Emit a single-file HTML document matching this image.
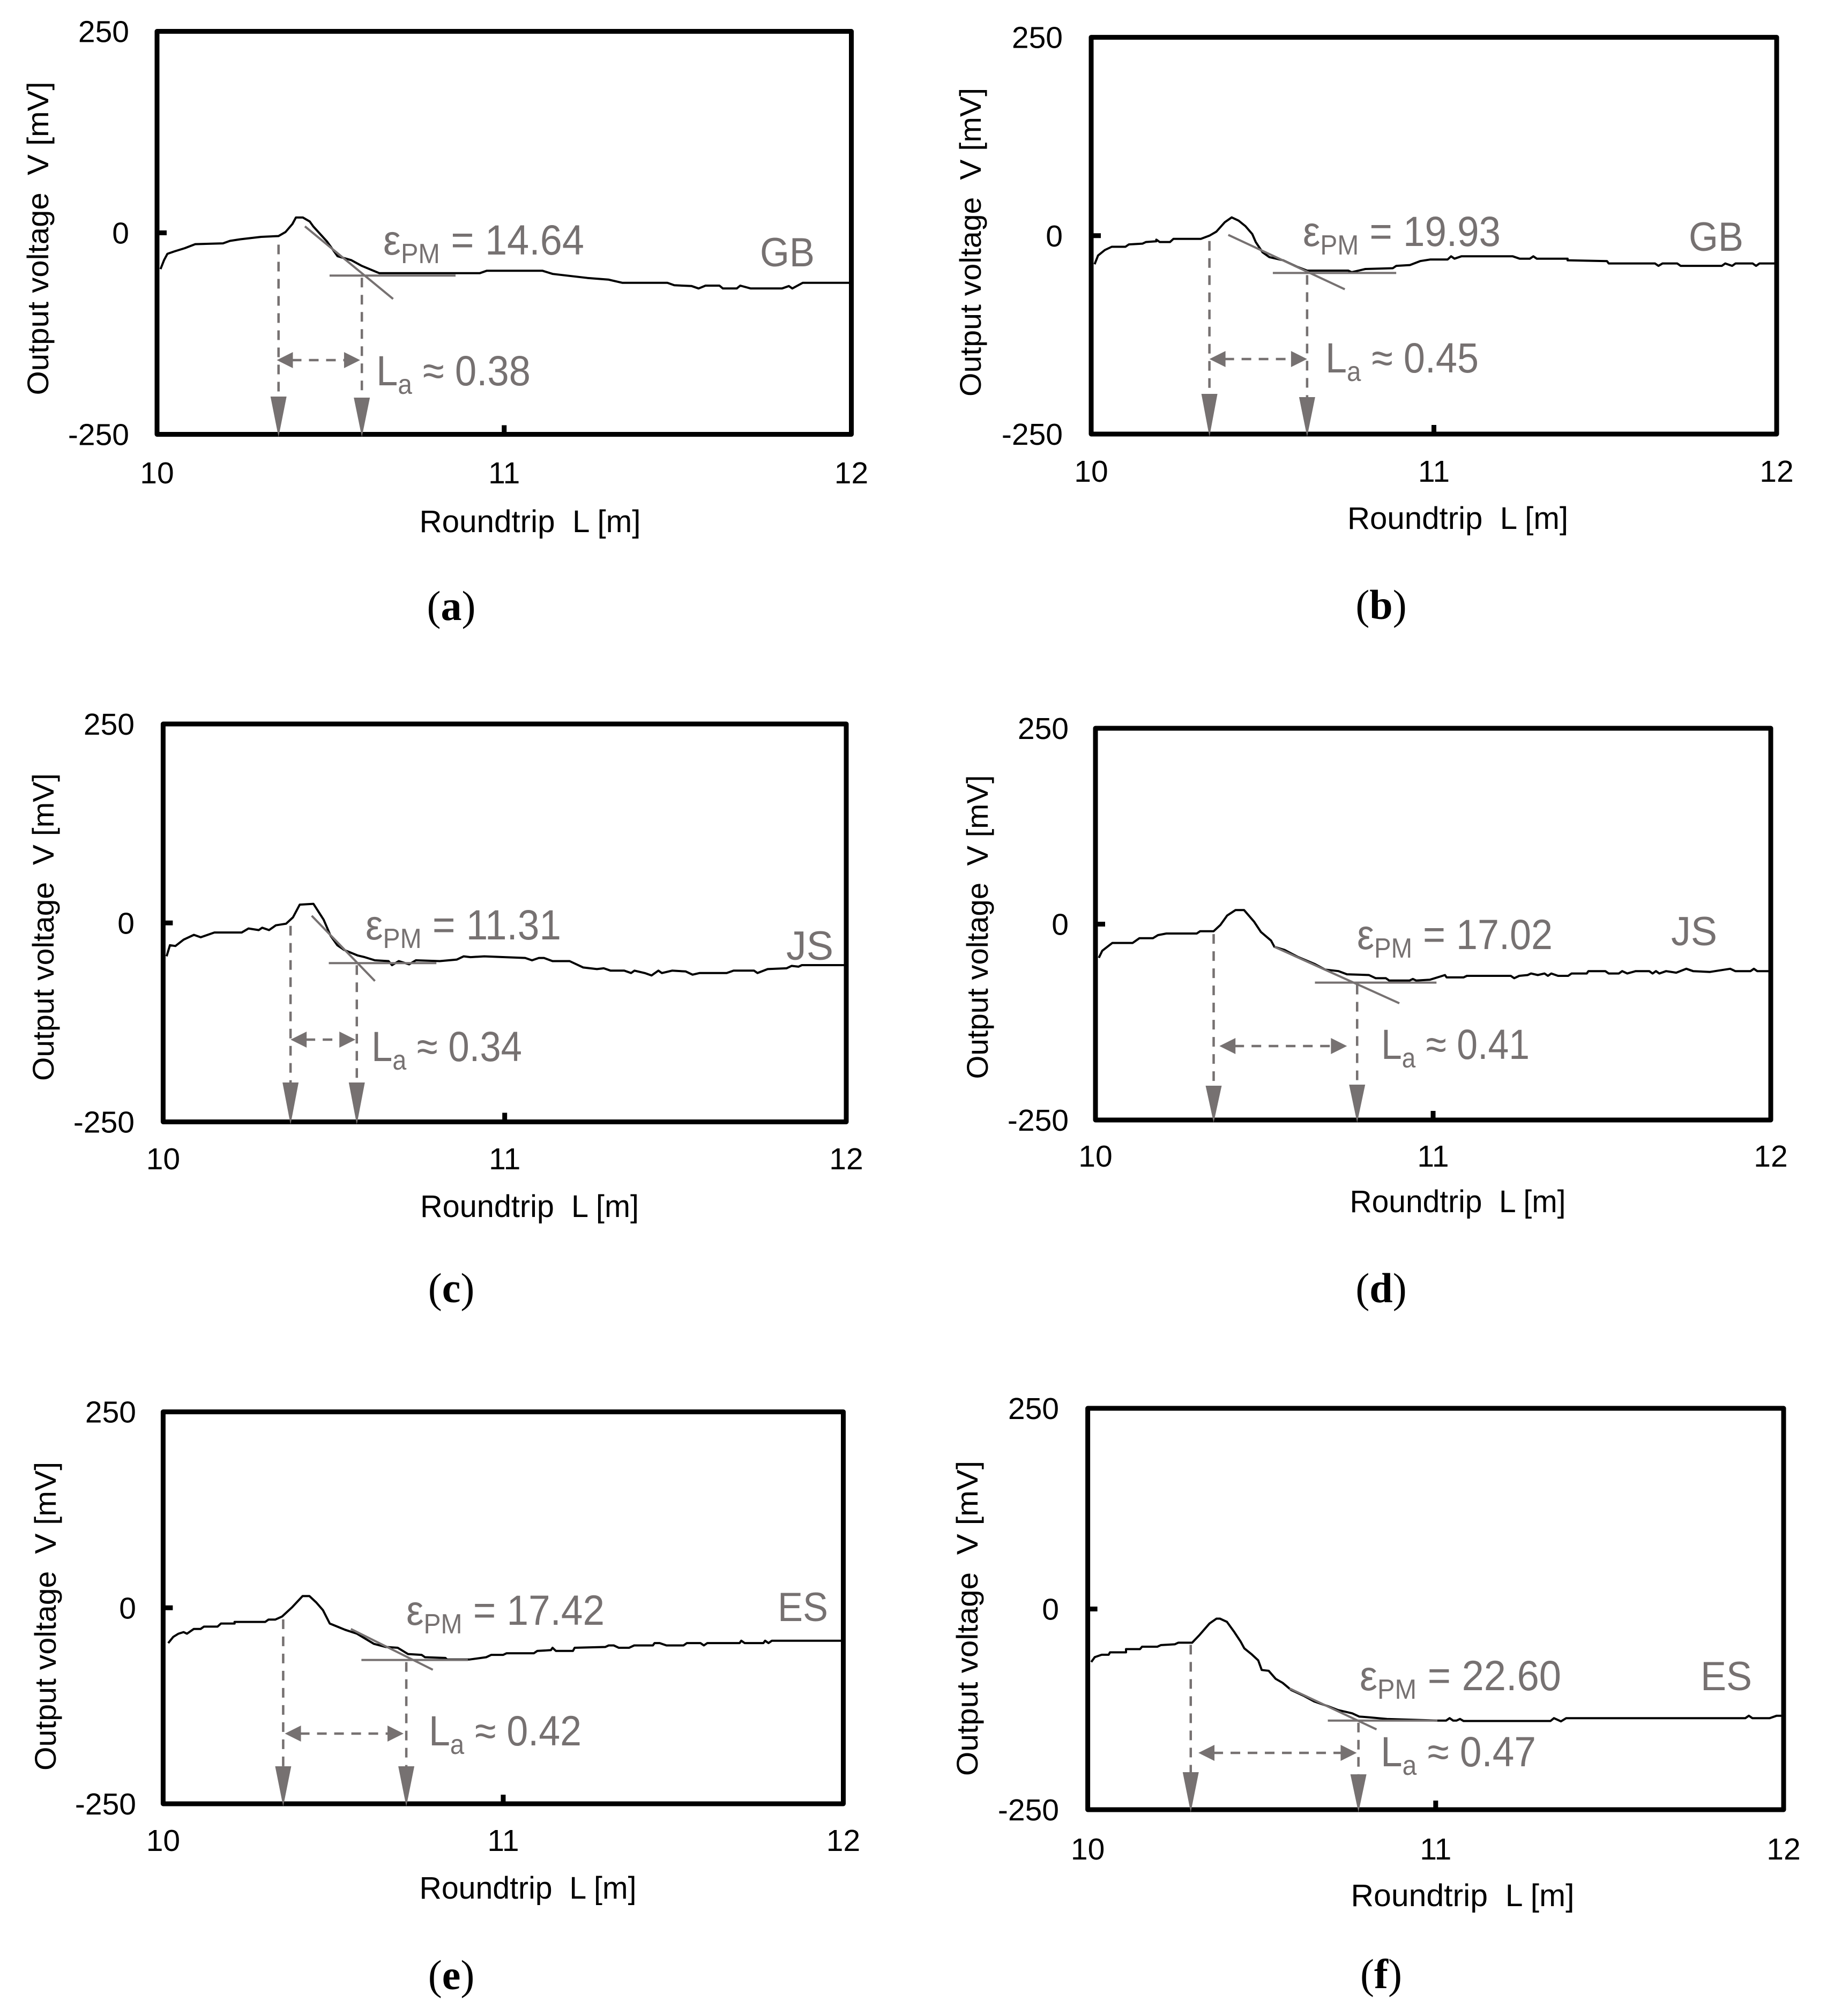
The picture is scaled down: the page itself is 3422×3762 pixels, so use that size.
<!DOCTYPE html>
<html>
<head>
<meta charset="utf-8">
<title>Output voltage versus roundtrip length panels</title>
<style>
html,body{margin:0;padding:0;background:#fff;}
body{width:3422px;height:3762px;overflow:hidden;}
svg{display:block;}
text{font-family:"Liberation Sans",sans-serif;}
</style>
</head>
<body>
<svg id="figure" xmlns="http://www.w3.org/2000/svg" width="3422" height="3762" viewBox="0 0 3422 3762"></svg>
<script>
// shared axis values
const lengthTicks = [10, 11, 12];
const voltageTicks = [250, 0, -250];
const xTitle = "Roundtrip  L [m]";
const yTitle = "Output voltage  V [mV]";

// panel (a)
const lengthA = [10.01,10.02,10.03,10.05,10.08,10.11,10.19,10.21,10.24,10.30,10.35,10.37,10.39,10.40,10.42,10.44,10.45,10.49,10.52,10.56,10.59,10.64,10.93,10.95,11.11,11.14,11.18,11.24,11.30,11.34,11.47,11.49,11.54,11.56,11.58,11.62,11.63,11.67,11.68,11.71,11.80,11.82,11.83,11.86,12.0];
const voltageA = [-45,-34,-26,-23,-19,-14,-13,-10,-8,-5,-4,1,11,19,19,14,8,-11,-29,-34,-41,-50,-50,-47,-47,-51,-53,-56,-58,-62,-62,-65,-66,-69,-65.5,-65.5,-69,-69,-65.5,-69,-69,-66,-69,-62,-62];
const markerLengthA = [10.35, 10.59];
const markerStartA = [-12, -53];
const spanA = [10.345, 10.585];
const slopeLengthA = [10.426, 10.68];
const slopeVoltageA = [8, -82];
const plateauLengthA = [10.497, 10.86];
const plateauVoltageA = [-53, -53];

// panel (b)
const lengthB = [10.01,10.02,10.04,10.06,10.10,10.11,10.15,10.16,10.19,10.19,10.20,10.23,10.24,10.32,10.345,10.365,10.39,10.41,10.43,10.45,10.47,10.48,10.50,10.52,10.56,10.60,10.63,10.75,10.76,10.80,10.88,10.89,10.93,10.96,10.99,11.04,11.05,11.06,11.08,11.23,11.25,11.28,11.29,11.30,11.39,11.39,11.505,11.51,11.645,11.655,11.667,11.71,11.72,11.84,11.85,11.87,11.88,11.93,11.94,11.95,12];
const voltageB = [-36,-25,-18,-14,-14,-11,-10,-8,-7,-5,-8,-8,-4,-4,0,5,17,23,19,12,2,-8,-21,-27,-31,-39,-44,-44,-46,-42,-41,-38,-37,-32,-30,-30,-26,-29,-26,-26,-29,-29,-26,-29,-29,-31,-32,-35,-35,-38,-35,-35,-38,-38,-35,-38,-35,-35,-38,-35,-35];
const markerLengthB = [10.345, 10.63];
const markerStartB = [-4, -47];
const spanB = [10.345, 10.63];
const slopeLengthB = [10.40, 10.74];
const slopeVoltageB = [1, -67.5];
const plateauLengthB = [10.53, 10.89];
const plateauVoltageB = [-47, -47];

// panel (c)
const lengthC = [10.01,10.02,10.036,10.06,10.09,10.11,10.15,10.23,10.25,10.28,10.29,10.31,10.33,10.36,10.38,10.40,10.44,10.455,10.47,10.49,10.51,10.53,10.57,10.59,10.62,10.66,10.67,10.69,10.72,10.74,10.81,10.86,10.88,10.90,10.94,11.06,11.08,11.10,11.115,11.14,11.19,11.23,11.27,11.29,11.31,11.35,11.37,11.38,11.41,11.43,11.45,11.46,11.49,11.53,11.55,11.57,11.65,11.67,11.73,11.74,11.77,11.825,11.84,11.86,11.87,12];
const voltageC = [-42,-28,-29,-21,-15,-18,-12,-12,-7,-9,-6,-9,-3,-1,7,23,24,14,4,-16,-28,-34,-41,-43,-47,-48,-53,-48,-52,-47,-48,-46,-42,-43,-42,-44,-47,-44,-44,-48,-48,-56,-58,-57,-60,-60,-63,-60,-63,-66,-60,-63,-60,-61,-65,-63,-63,-60,-60,-63,-58,-57,-54,-55,-53,-53];
const markerLengthC = [10.373, 10.567];
const markerStartC = [-1, -50.5];
const spanC = [10.373, 10.563];
const slopeLengthC = [10.435, 10.62];
const slopeVoltageC = [9, -73];
const plateauLengthC = [10.485, 10.80];
const plateauVoltageC = [-50.5, -50.5];

// panel (d)
const lengthD = [10.01,10.02,10.05,10.11,10.13,10.17,10.185,10.21,10.30,10.31,10.35,10.37,10.39,10.415,10.44,10.46,10.47,10.49,10.52,10.53,10.56,10.60,10.65,10.68,10.72,10.745,10.81,10.83,10.86,10.87,10.93,10.94,10.95,10.99,11.02,11.035,11.04,11.09,11.10,11.23,11.24,11.255,11.28,11.29,11.31,11.33,11.34,11.35,11.37,11.40,11.41,11.455,11.46,11.51,11.52,11.55,11.56,11.575,11.60,11.64,11.65,11.66,11.67,11.69,11.72,11.75,11.77,11.82,11.835,11.88,11.895,11.94,11.95,11.96,12];
const voltageD = [-43,-34,-24,-24,-18,-18,-14,-12,-12,-9,-9,-1,11,18,18,8,3,-10,-21,-29,-33,-42,-51,-58,-60,-64,-65,-69,-69,-72,-72,-70,-72,-71,-67,-65,-68,-68,-66,-66,-69,-66,-65,-63,-65,-63,-66,-63,-66,-66,-63,-63,-60,-60,-63,-63,-60,-63,-60,-60,-63,-60,-63,-60,-62,-57,-60,-61,-60,-57,-60,-60,-57,-60,-60];
const markerLengthD = [10.35, 10.775];
const markerStartD = [-10, -74.6];
const spanD = [10.367, 10.745];
const slopeLengthD = [10.53, 10.90];
const slopeVoltageD = [-29, -101];
const plateauLengthD = [10.65, 11.01];
const plateauVoltageD = [-74.6, -74.6];

// panel (e)
const lengthE = [10.015,10.03,10.045,10.06,10.07,10.09,10.11,10.12,10.16,10.17,10.21,10.21,10.30,10.31,10.33,10.35,10.38,10.41,10.43,10.45,10.47,10.49,10.535,10.57,10.62,10.655,10.69,10.72,10.76,10.77,10.83,10.835,10.90,10.95,10.965,11.0,11.01,11.09,11.10,11.14,11.145,11.155,11.205,11.21,11.30,11.31,11.325,11.34,11.37,11.385,11.44,11.445,11.46,11.48,11.53,11.54,11.58,11.59,11.60,11.695,11.70,11.71,11.765,11.77,11.78,11.79,12];
const voltageE = [-45,-37,-33,-31,-33,-27,-27,-24,-24,-20,-20,-18,-18,-15,-15,-11,1,15,15,7,-3,-20,-28,-33,-46,-50,-51,-59,-60,-63,-64,-66,-66,-63,-60,-60,-58,-58,-55,-54,-51,-55,-55,-51,-50,-48,-48,-51,-51,-48,-48,-45,-45,-48,-48,-45,-45,-48,-45,-45,-42,-45,-45,-42,-45,-42,-42];
const markerLengthE = [10.353, 10.715];
const markerStartE = [-12, -66.5];
const spanE = [10.358, 10.707];
const slopeLengthE = [10.552, 10.793];
const slopeVoltageE = [-27, -79];
const plateauLengthE = [10.583, 10.896];
const plateauVoltageE = [-66.5, -66.5];

// panel (f)
const lengthF = [10.01,10.02,10.04,10.06,10.064,10.11,10.11,10.15,10.156,10.20,10.21,10.25,10.26,10.30,10.32,10.35,10.37,10.38,10.40,10.42,10.44,10.45,10.47,10.49,10.50,10.52,10.54,10.56,10.585,10.62,10.65,10.69,10.72,10.76,10.78,10.81,10.86,11.005,11.03,11.04,11.05,11.06,11.07,11.08,11.33,11.34,11.36,11.375,11.89,11.90,11.91,11.96,11.98,12];
const voltageF = [-66,-60,-57,-57,-54,-54,-50,-50,-47,-47,-45,-44,-42,-42,-33,-18,-12,-12,-16,-28,-41,-49,-56,-64,-76,-77,-87,-92,-101,-108,-115,-121,-126,-130,-134,-135,-137,-139,-139,-136,-139,-139,-137,-139.5,-139.5,-136,-140,-136,-136,-133,-136,-136,-133,-133];
const markerLengthF = [10.296, 10.778];
const markerStartF = [-42, -139];
const spanF = [10.318, 10.773];
const slopeLengthF = [10.58, 10.83];
const slopeVoltageF = [-99, -150];
const plateauLengthF = [10.69, 11.005];
const plateauVoltageF = [-139, -139];

// printed labels
const captions = ["a", "b", "c", "d", "e", "f"];
const permittivityLabels = ["14.64", "19.93", "11.31", "17.02", "17.42", "22.60"];
const lengthLabels = ["0.38", "0.45", "0.34", "0.41", "0.42", "0.47"];
const materialLabels = ["GB", "GB", "JS", "JS", "ES", "ES"];

// series bundled per panel
const seriesLength = [lengthA, lengthB, lengthC, lengthD, lengthE, lengthF];
const seriesVoltage = [voltageA, voltageB, voltageC, voltageD, voltageE, voltageF];
const markerLengths = [markerLengthA, markerLengthB, markerLengthC, markerLengthD, markerLengthE, markerLengthF];
const markerStarts = [markerStartA, markerStartB, markerStartC, markerStartD, markerStartE, markerStartF];
const spans = [spanA, spanB, spanC, spanD, spanE, spanF];
const slopeLengths = [slopeLengthA, slopeLengthB, slopeLengthC, slopeLengthD, slopeLengthE, slopeLengthF];
const slopeVoltages = [slopeVoltageA, slopeVoltageB, slopeVoltageC, slopeVoltageD, slopeVoltageE, slopeVoltageF];
const plateauLengths = [plateauLengthA, plateauLengthB, plateauLengthC, plateauLengthD, plateauLengthE, plateauLengthF];
const plateauVoltages = [plateauVoltageA, plateauVoltageB, plateauVoltageC, plateauVoltageD, plateauVoltageE, plateauVoltageF];

// layout only (pixel geometry of each panel)
const layouts = [
 {box:[293,1588.5,58.5,810.5], yTitleX:90, yTitleMid:445, yTitleLen:585, xTitleX:989, xTitleY:993, xTitleLen:413, tickBase:902, tickRight:241, headTop:[740,742], spanY:672,
  eps:[715,475,375], la:[702,719,288], mat:[1418,497,102], cap:[842,1157]},
 {box:[2036,3315,69.6,810], yTitleX:1830, yTitleMid:452, yTitleLen:576, xTitleX:2720, xTitleY:987, xTitleLen:412, tickBase:899, tickRight:1983, headTop:[735,741], spanY:670,
  eps:[2431,459,369], la:[2473,695,286], mat:[3151,468,102], cap:[2577,1155]},
 {box:[304.4,1579,1351,2093.5], yTitleX:100, yTitleMid:1730, yTitleLen:574, xTitleX:988, xTitleY:2271, xTitleLen:408, tickBase:2182, tickRight:251, headTop:[2020,2020], spanY:1940,
  eps:[682,1753,365], la:[693,1980,281], mat:[1467,1791,88], cap:[842,2430]},
 {box:[2044,3304,1359,2090], yTitleX:1843, yTitleMid:1730, yTitleLen:567, xTitleX:2720, xTitleY:2262, xTitleLen:403, tickBase:2177, tickRight:1994, headTop:[2026,2024], spanY:1952,
  eps:[2532,1771,365], la:[2577,1976,277], mat:[3118,1764,86], cap:[2577,2430]},
 {box:[304.4,1573.5,2634.6,3366], yTitleX:104, yTitleMid:3016, yTitleLen:576, xTitleX:985, xTitleY:3543, xTitleLen:405, tickBase:3454, tickRight:254, headTop:[3296,3296], spanY:3235,
  eps:[758,3032,370], la:[800,3257,285], mat:[1451,3025,94], cap:[842,3712]},
 {box:[2029.6,3328,2628,3377], yTitleX:1824, yTitleMid:3020, yTitleLen:588, xTitleX:2729, xTitleY:3557, xTitleLen:417, tickBase:3470, tickRight:1976, headTop:[3307,3311], spanY:3271,
  eps:[2537,3154,376], la:[2576,3296,290], mat:[3173,3154,96], cap:[2577,3710]}
];

const NS = "http://www.w3.org/2000/svg";
const figure = document.getElementById("figure");
const INK = "#767171";

function addLine(parent, name, x1, y1, x2, y2, color, width, dash) {
  const el = document.createElementNS(NS, "line");
  
  
  el.setAttribute("x1", x1);
  el.setAttribute("y1", y1);
  el.setAttribute("x2", x2);
  el.setAttribute("y2", y2);
  el.setAttribute("stroke", color);
  el.setAttribute("stroke-width", width);
  if (dash) el.setAttribute("stroke-dasharray", dash);
  parent.appendChild(el);
  return el;
}
function addHead(parent, name, pts) {
  const el = document.createElementNS(NS, "polygon");
  
  
  el.setAttribute("points", pts.map(p => p.join(",")).join(" "));
  el.setAttribute("fill", INK);
  parent.appendChild(el);
  return el;
}
function addText(parent, name, x, y, str, size, color, anchor, length) {
  const el = document.createElementNS(NS, "text");
  
  
  el.setAttribute("x", x);
  el.setAttribute("y", y);
  el.setAttribute("font-size", size);
  el.setAttribute("fill", color);
  el.setAttribute("text-anchor", anchor || "start");
  el.setAttribute("xml:space", "preserve");
  el.style.whiteSpace = "pre";
  if (length) {
    el.setAttribute("textLength", length);
    el.setAttribute("lengthAdjust", "spacingAndGlyphs");
  }
  if (str !== null) el.textContent = str;
  parent.appendChild(el);
  return el;
}
function addSpan(parent, str, size, dy, dx) {
  const el = document.createElementNS(NS, "tspan");
  el.setAttribute("font-size", size);
  if (dy) el.setAttribute("dy", dy);
  if (dx) el.setAttribute("dx", dx);
  el.textContent = str;
  parent.appendChild(el);
  return el;
}

layouts.forEach(function (lay, i) {
  const L = lay.box[0], R = lay.box[1], T = lay.box[2], B = lay.box[3];
  const xAxis = v => L + (v - 10) / 2 * (R - L);
  const yAxis = v => T + (250 - v) / 500 * (B - T);

  const g = document.createElementNS(NS, "g");
  
  
  figure.appendChild(g);

  // frame
  const frame = document.createElementNS(NS, "rect");
  
  
  frame.setAttribute("x", L);
  frame.setAttribute("y", T);
  frame.setAttribute("width", R - L);
  frame.setAttribute("height", B - T);
  frame.setAttribute("fill", "none");
  frame.setAttribute("stroke", "#000");
  frame.setAttribute("stroke-width", 9);
  frame.setAttribute("stroke-linejoin", "round");
  g.appendChild(frame);

  // ticks and tick labels
  lengthTicks.forEach(function (t) {
    if (t === 11) addLine(g, 'x-tick', xAxis(t), B, xAxis(t), B - 17, "#000", 9);
    addText(g, 'x-tick-label', xAxis(t), lay.tickBase, String(t), 57, "#000", "middle");
  });
  voltageTicks.forEach(function (t) {
    if (t === 0) addLine(g, 'y-tick', L, yAxis(t), L + 18, yAxis(t), "#000", 9);
    addText(g, 'y-tick-label', lay.tickRight, yAxis(t) + 20, String(t), 57, "#000", "end");
  });

  // axis titles
  addText(g, 'x-axis-title', lay.xTitleX - lay.xTitleLen / 2, lay.xTitleY, xTitle, 58, "#000", "start", lay.xTitleLen);
  const yt = addText(g, 'y-axis-title', 0, 0, yTitle, 56, "#000", "start", lay.yTitleLen);
  yt.setAttribute("transform", "translate(" + lay.yTitleX + "," + (lay.yTitleMid + lay.yTitleLen / 2) + ") rotate(-90)");

  // measured trace
  const trace = document.createElementNS(NS, "polyline");
  
  
  trace.setAttribute("points", seriesLength[i].map((x, k) => xAxis(x).toFixed(1) + "," + yAxis(seriesVoltage[i][k]).toFixed(1)).join(" "));
  trace.setAttribute("fill", "none");
  trace.setAttribute("stroke", "#000");
  trace.setAttribute("stroke-width", 4);
  trace.setAttribute("stroke-linejoin", "round");
  g.appendChild(trace);

  // tangent lines
  addLine(g, 'plateau-line', xAxis(plateauLengths[i][0]), yAxis(plateauVoltages[i][0]), xAxis(plateauLengths[i][1]), yAxis(plateauVoltages[i][1]), INK, 4);
  addLine(g, 'slope-line', xAxis(slopeLengths[i][0]), yAxis(slopeVoltages[i][0]), xAxis(slopeLengths[i][1]), yAxis(slopeVoltages[i][1]), INK, 4);

  // dashed markers with arrowheads
  markerLengths[i].forEach(function (m, k) {
    const mx = xAxis(m);
    const tip = B + 5;
    addLine(g, 'marker-dashed-line', mx, yAxis(markerStarts[i][k]) + 4, mx, lay.headTop[k], INK, 4.5, "18 14");
    addHead(g, 'marker-arrowhead', [[mx - 15, lay.headTop[k]], [mx + 15, lay.headTop[k]], [mx, tip]]);
  });

  // double-headed span arrow
  const s0 = xAxis(spans[i][0]), s1 = xAxis(spans[i][1]), sy = lay.spanY;
  addLine(g, 'span-dashed-line', s0 + 28, sy, s1 - 28, sy, INK, 4.5, "18 14");
  addHead(g, 'span-arrowhead-left', [[s0, sy], [s0 + 30, sy - 15], [s0 + 30, sy + 15]]);
  addHead(g, 'span-arrowhead-right', [[s1, sy], [s1 - 30, sy - 15], [s1 - 30, sy + 15]]);

  // annotation labels
  const eps = addText(g, 'permittivity-label', lay.eps[0], lay.eps[1], null, 79, INK, "start", lay.eps[2]);
  addSpan(eps, "\u03B5", 79);
  addSpan(eps, "PM", 52, 16);
  addSpan(eps, " = " + permittivityLabels[i], 79, -16);

  const la = addText(g, 'length-label', lay.la[0], lay.la[1], null, 79, INK, "start", lay.la[2]);
  addSpan(la, "L", 79);
  addSpan(la, "a", 52, 16);
  addSpan(la, " \u2248 " + lengthLabels[i], 79, -16);

  addText(g, 'material-label', lay.mat[0], lay.mat[1], materialLabels[i], 76, INK, "start", lay.mat[2]);

  // caption
  const cap = document.createElementNS(NS, "text");
  
  
  cap.setAttribute("x", lay.cap[0]);
  cap.setAttribute("y", lay.cap[1]);
  cap.setAttribute("font-size", 78);
  cap.setAttribute("text-anchor", "middle");
  cap.setAttribute("fill", "#000");
  cap.style.fontFamily = '"Liberation Serif",serif';
  addSpan(cap, "(", 78);
  const letter = addSpan(cap, captions[i], 78);
  letter.setAttribute("font-weight", "bold");
  addSpan(cap, ")", 78);
  g.appendChild(cap);
});
</script>
</body>
</html>
